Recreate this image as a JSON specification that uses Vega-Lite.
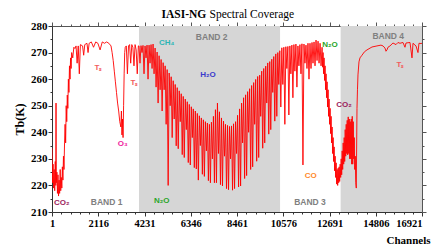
{
  "$schema": "https://vega.github.io/schema/vega-lite/v6.json",
  "width": 370,
  "height": 186,
  "autosize": {"type": "none"},
  "padding": {"left": 52, "top": 26, "right": 10, "bottom": 32},
  "background": "white",
  "datasets": {
    "bands": [
      {"start": 3980, "end": 10430},
      {"start": 13200, "end": 16921}
    ],
    "spectrum": [
      {"c":1,"t":234},{"c":25,"t":221},{"c":50,"t":228},{"c":75,"t":219},{"c":100,"t":226},{"c":125,"t":218},{"c":150,"t":229},{"c":175,"t":220},{"c":185,"t":251},{"c":195,"t":221},{"c":225,"t":225},{"c":250,"t":217},{"c":275,"t":224},{"c":300,"t":216},{"c":325,"t":222},{"c":350,"t":217},{"c":375,"t":226},{"c":400,"t":218},{"c":425,"t":223},{"c":450,"t":219},{"c":475,"t":227},{"c":500,"t":222},{"c":525,"t":231},{"c":550,"t":226},{"c":575,"t":236},{"c":600,"t":243},{"c":625,"t":236},{"c":650,"t":250},{"c":675,"t":244},{"c":700,"t":254},{"c":725,"t":249},{"c":750,"t":260},{"c":775,"t":255},{"c":800,"t":265},{"c":825,"t":260},{"c":850,"t":268},{"c":875,"t":264},{"c":900,"t":270},{"c":950,"t":268},{"c":1000,"t":272},{"c":1050,"t":271.5},{"c":1100,"t":272.5},{"c":1150,"t":266},{"c":1200,"t":272.5},{"c":1250,"t":262},{"c":1300,"t":273},{"c":1400,"t":272.5},{"c":1450,"t":269},{"c":1500,"t":273},{"c":1600,"t":273.5},{"c":1650,"t":270},{"c":1700,"t":273.5},{"c":1800,"t":274},{"c":1900,"t":272},{"c":2000,"t":274},{"c":2100,"t":273.5},{"c":2200,"t":271},{"c":2300,"t":274},{"c":2400,"t":273.5},{"c":2500,"t":274},{"c":2600,"t":273.5},{"c":2700,"t":272.5},{"c":2750,"t":270},{"c":2800,"t":267},{"c":2850,"t":263},{"c":2900,"t":259},{"c":2950,"t":255},{"c":3000,"t":251},{"c":3050,"t":248},{"c":3100,"t":244},{"c":3150,"t":242},{"c":3175,"t":248},{"c":3200,"t":239},{"c":3225,"t":245},{"c":3250,"t":238},{"c":3275,"t":250},{"c":3300,"t":262},{"c":3325,"t":270},{"c":3350,"t":272},{"c":3400,"t":272.5},{"c":3450,"t":262},{"c":3500,"t":272.5},{"c":3550,"t":273},{"c":3600,"t":266},{"c":3650,"t":273},{"c":3700,"t":272},{"c":3750,"t":265},{"c":3800,"t":273},{"c":3850,"t":271},{"c":3900,"t":262},{"c":3950,"t":272.5},
      {"c":3979,"t":272.5},{"c":4025,"t":266},{"c":4071,"t":272.6},{"c":4117,"t":270},{"c":4163,"t":272.7},{"c":4209,"t":262},{"c":4255,"t":272.5},{"c":4301,"t":268},{"c":4347,"t":272.8},{"c":4393,"t":260},{"c":4439,"t":272.8},{"c":4485,"t":266},{"c":4531,"t":273},{"c":4577,"t":264},{"c":4623,"t":273.2},{"c":4669,"t":262},{"c":4715,"t":271.7},{"c":4761,"t":257},{"c":4807,"t":270.2},{"c":4853,"t":251},{"c":4899,"t":268.8},{"c":4945,"t":256},{"c":4991,"t":267.4},{"c":5037,"t":248},{"c":5083,"t":266.2},{"c":5129,"t":256},{"c":5175,"t":265},{"c":5221,"t":243},{"c":5267,"t":263.6},{"c":5313,"t":220},{"c":5359,"t":262.3},{"c":5405,"t":250},{"c":5451,"t":260.9},{"c":5497,"t":238},{"c":5543,"t":259.4},{"c":5589,"t":245},{"c":5635,"t":258},{"c":5681,"t":234.9},{"c":5727,"t":256.8},{"c":5773,"t":233.8},{"c":5819,"t":255.6},{"c":5865,"t":244},{"c":5911,"t":254.5},{"c":5957,"t":231.6},{"c":6003,"t":253.5},{"c":6049,"t":230.5},{"c":6095,"t":252.5},{"c":6141,"t":241},{"c":6187,"t":251.5},{"c":6233,"t":228.6},{"c":6279,"t":250.5},{"c":6325,"t":227.7},{"c":6371,"t":249.6},{"c":6417,"t":238},{"c":6463,"t":248.8},{"c":6509,"t":226.7},{"c":6555,"t":248},{"c":6601,"t":226.2},{"c":6647,"t":247.1},{"c":6693,"t":222},{"c":6739,"t":246.2},{"c":6785,"t":235},{"c":6831,"t":245.4},{"c":6877,"t":224.2},{"c":6923,"t":244.7},{"c":6969,"t":223.4},{"c":7015,"t":244},{"c":7061,"t":233},{"c":7107,"t":243.5},{"c":7153,"t":221.8},{"c":7199,"t":243},{"c":7245,"t":221},{"c":7291,"t":243.8},{"c":7337,"t":230},{"c":7383,"t":246},{"c":7429,"t":221},{"c":7475,"t":248.5},{"c":7521,"t":221},{"c":7567,"t":251},{"c":7613,"t":232},{"c":7659,"t":247.7},{"c":7705,"t":220.3},{"c":7751,"t":245.4},{"c":7797,"t":219.8},{"c":7843,"t":244.2},{"c":7889,"t":231},{"c":7935,"t":243},{"c":7981,"t":218.8},{"c":8027,"t":242.6},{"c":8073,"t":218.4},{"c":8119,"t":242.2},{"c":8165,"t":230},{"c":8211,"t":242.4},{"c":8257,"t":218.2},{"c":8303,"t":243.2},{"c":8349,"t":218.8},{"c":8395,"t":244},{"c":8441,"t":232},{"c":8487,"t":246.4},{"c":8533,"t":219.4},{"c":8579,"t":248.8},{"c":8625,"t":219.8},{"c":8671,"t":251},{"c":8717,"t":236},{"c":8763,"t":253},{"c":8809,"t":222.6},{"c":8855,"t":254.1},{"c":8901,"t":223.7},{"c":8947,"t":255.3},{"c":8993,"t":240},{"c":9039,"t":256.4},{"c":9085,"t":226},{"c":9131,"t":257.6},{"c":9177,"t":227},{"c":9223,"t":258.7},{"c":9269,"t":243},{"c":9315,"t":259.9},{"c":9361,"t":229.1},{"c":9407,"t":261},{"c":9453,"t":230.5},{"c":9499,"t":261.5},{"c":9545,"t":246},{"c":9591,"t":263},{"c":9637,"t":234},{"c":9683,"t":264},{"c":9729,"t":236},{"c":9775,"t":264.9},{"c":9821,"t":251},{"c":9867,"t":266.1},{"c":9913,"t":239.3},{"c":9959,"t":266.6},{"c":10005,"t":241},{"c":10051,"t":267.5},{"c":10097,"t":255},{"c":10143,"t":268.5},{"c":10189,"t":244.2},{"c":10235,"t":269.5},{"c":10281,"t":246},{"c":10327,"t":270},{"c":10373,"t":258},{"c":10419,"t":270.7},{"c":10465,"t":249.5},
      {"c":10511,"t":271.8},{"c":10557,"t":258},{"c":10603,"t":272},{"c":10649,"t":243},{"c":10695,"t":272.2},{"c":10741,"t":264},{"c":10787,"t":272.3},{"c":10833,"t":246.5},{"c":10879,"t":272.5},{"c":10925,"t":262},{"c":10971,"t":272.8},{"c":11017,"t":253},{"c":11063,"t":273},{"c":11109,"t":263},{"c":11155,"t":273.2},{"c":11201,"t":257},{"c":11247,"t":272.5},{"c":11293,"t":265},{"c":11339,"t":273},{"c":11385,"t":262},{"c":11431,"t":273.3},{"c":11477,"t":227.7},{"c":11523,"t":273.2},{"c":11569,"t":266},{"c":11615,"t":272.8},{"c":11661,"t":264},{"c":11707,"t":273.5},{"c":11753,"t":260},{"c":11799,"t":273.5},{"c":11845,"t":264},{"c":11891,"t":273.8},{"c":11937,"t":266},{"c":11983,"t":274},{"c":12029,"t":265},{"c":12075,"t":274.7},{"c":12121,"t":267},{"c":12167,"t":274.3},{"c":12213,"t":266},{"c":12259,"t":273.5},{"c":12305,"t":265},{"c":12351,"t":272},
      {"c":12374,"t":264.5},{"c":12397,"t":270},{"c":12420,"t":262},{"c":12443,"t":268},{"c":12466,"t":259.5},{"c":12489,"t":265},{"c":12512,"t":256},{"c":12535,"t":262},{"c":12558,"t":253},{"c":12581,"t":259},{"c":12604,"t":249.5},{"c":12627,"t":256},{"c":12650,"t":246},{"c":12673,"t":252.5},{"c":12696,"t":243},{"c":12719,"t":249},{"c":12742,"t":239.5},{"c":12765,"t":246},{"c":12788,"t":236},{"c":12811,"t":242},{"c":12834,"t":232},{"c":12857,"t":238},{"c":12880,"t":229},{"c":12903,"t":234.5},{"c":12926,"t":225.5},{"c":12949,"t":231},{"c":12972,"t":223},{"c":12995,"t":228.5},{"c":13018,"t":220.5},{"c":13041,"t":226},{"c":13064,"t":220},{"c":13087,"t":226.5},{"c":13110,"t":221},{"c":13133,"t":227},{"c":13156,"t":221.5},{"c":13179,"t":228},{"c":13202,"t":223},{"c":13225,"t":230},{"c":13248,"t":224},{"c":13271,"t":233},{"c":13294,"t":226},{"c":13317,"t":236},{"c":13340,"t":228},{"c":13363,"t":238},{"c":13386,"t":229},{"c":13409,"t":241},{"c":13432,"t":231},{"c":13455,"t":243},{"c":13478,"t":232},{"c":13501,"t":244.5},{"c":13524,"t":231.5},{"c":13547,"t":245.8},{"c":13570,"t":232},{"c":13593,"t":245},{"c":13616,"t":230},{"c":13639,"t":244},{"c":13662,"t":230},{"c":13685,"t":245},{"c":13708,"t":228},{"c":13731,"t":246},{"c":13754,"t":228},{"c":13777,"t":244},{"c":13800,"t":230},{"c":13823,"t":238},{"c":13846,"t":226},{"c":13869,"t":231},{"c":13892,"t":221},{"c":13915,"t":219},
      {"c":13948,"t":249},{"c":13970,"t":256},{"c":13993,"t":261.6},{"c":14039,"t":266.5},{"c":14085,"t":268},{"c":14176,"t":269},{"c":14290,"t":270.3},{"c":14405,"t":271},{"c":14634,"t":272.1},{"c":14862,"t":272.5},{"c":15045,"t":272.8},{"c":15137,"t":272.5},{"c":15228,"t":271.7},{"c":15274,"t":270.5},{"c":15320,"t":271},{"c":15365,"t":272},{"c":15457,"t":272.5},{"c":15594,"t":273.6},{"c":15731,"t":273},{"c":15822,"t":273.8},{"c":15914,"t":273.5},{"c":16051,"t":273.8},{"c":16143,"t":272},{"c":16189,"t":273.6},{"c":16372,"t":273.8},{"c":16463,"t":268},{"c":16509,"t":273.5},{"c":16646,"t":272.5},{"c":16737,"t":270},{"c":16783,"t":273.5},{"c":16875,"t":273.4},{"c":16921,"t":273.5}
    ],
    "species": [
      {"c":444,"t":213.5,"label":"CO₂","g":"co2"},
      {"c":2104,"t":264.2,"label":"Tₛ","g":"ts"},
      {"c":3750,"t":258.5,"label":"Tₛ","g":"ts"},
      {"c":3233,"t":235.5,"label":"O₃","g":"o3"},
      {"c":5245,"t":273.5,"label":"CH₄","g":"ch4"},
      {"c":7134,"t":261.6,"label":"H₂O","g":"h2o"},
      {"c":5016,"t":214.1,"label":"N₂O","g":"n2o"},
      {"c":12713,"t":272.9,"label":"N₂O","g":"n2o"},
      {"c":13353,"t":250.3,"label":"CO₂","g":"co2"},
      {"c":11830,"t":223.6,"label":"CO","g":"co"},
      {"c":15914,"t":265.3,"label":"Tₛ","g":"ts"}
    ],
    "bandnames": [
      {"c":2501,"t":213.9,"label":"BAND 1"},
      {"c":7303,"t":276,"label":"BAND 2"},
      {"c":11798,"t":213.9,"label":"BAND 3"},
      {"c":15379,"t":276.4,"label":"BAND 4"}
    ]
  },
  "layer": [
    {
      "data": {"name": "bands"},
      "mark": {"type": "rect", "color": "#d6d6d6"},
      "encoding": {
        "x": {
          "field": "start", "type": "quantitative",
          "scale": {"domain": [1, 16921], "nice": false, "zero": false},
          "axis": {
            "orient": "top", "labels": false, "grid": false,
            "values": [1,424,847,1270,1693,2116,2539,2962,3385,3808,4231,4654,5077,5500,5923,6346,6769,7192,7615,8038,8461,8884,9307,9730,10153,10576,10999,11422,11845,12268,12691,13114,13537,13960,14383,14806,15229,15652,16075,16498,16921],
            "tickSize": {"condition": {"test": "(datum.value-1)%2115==0", "value": 4}, "value": 2},
            "tickColor": "#555555", "domainColor": "#555555",
            "title": "Spectral Coverage",
            "titleFont": "Liberation Serif", "titleFontWeight": "normal", "titleFontSize": 11.5, "titleColor": "#000000",
            "titleAlign": "left", "titleBaseline": "alphabetic", "titleAngle": 0, "titleX": 157, "titleY": -9
          }
        },
        "x2": {"field": "end"}
      }
    },
    {
      "data": {"name": "spectrum"},
      "mark": {"type": "line", "color": "#ff0000", "strokeWidth": 0.9, "clip": true},
      "encoding": {
        "x": {
          "field": "c", "type": "quantitative",
          "scale": {"domain": [1, 16921], "nice": false, "zero": false},
          "axis": {
            "orient": "bottom",
            "values": [1,424,847,1270,1693,2116,2539,2962,3385,3808,4231,4654,5077,5500,5923,6346,6769,7192,7615,8038,8461,8884,9307,9730,10153,10576,10999,11422,11845,12268,12691,13114,13537,13960,14383,14806,15229,15652,16075,16498,16921],
            "format": "d",
            "labelExpr": "(datum.value-1)%2115==0 ? datum.label : ''",
            "labelFlush": false,
            "labelOverlap": false,
            "labelAlign": {"condition": {"test": "datum.value==16921", "value": "right"}, "value": "center"},
            "labelFont": "Liberation Serif", "labelFontWeight": "bold", "labelFontSize": 10.5, "labelColor": "#000000",
            "labelPadding": 2,
            "tickSize": {"condition": {"test": "(datum.value-1)%2115==0", "value": 4}, "value": 2},
            "tickColor": "#333333", "domainColor": "#333333", "grid": false,
            "title": "Channels",
            "titleFont": "Liberation Serif", "titleFontWeight": "bold", "titleFontSize": 11, "titleColor": "#000000",
            "titleAlign": "right", "titleBaseline": "middle", "titleX": 378, "titleY": 28
          }
        },
        "y": {
          "field": "t", "type": "quantitative",
          "scale": {"domain": [210, 280], "nice": false, "zero": false},
          "axis": {
            "orient": "left",
            "values": [210,215,220,225,230,235,240,245,250,255,260,265,270,275,280],
            "labelExpr": "datum.value%10==0 ? datum.label : ''",
            "labelFont": "Liberation Serif", "labelFontWeight": "bold", "labelFontSize": 11, "labelColor": "#000000",
            "labelPadding": 1,
            "tickSize": {"condition": {"test": "datum.value%10==0", "value": 4}, "value": 2},
            "tickColor": "#333333", "domainColor": "#333333", "grid": false,
            "title": "Tb(K)",
            "titleFont": "Liberation Serif", "titleFontWeight": "bold", "titleFontSize": 12, "titleColor": "#000000",
            "titleAngle": 270, "titleAlign": "center", "titleBaseline": "middle", "titleX": -33, "titleY": 93
          }
        }
      }
    },
    {
      "data": {"name": "species"},
      "mark": {"type": "text", "font": "Liberation Sans", "fontWeight": "bold", "fontSize": 8},
      "encoding": {
        "x": {"field": "c", "type": "quantitative", "scale": {"domain": [1, 16921], "nice": false, "zero": false}, "axis": null},
        "y": {
          "field": "t", "type": "quantitative",
          "scale": {"domain": [210, 280], "nice": false, "zero": false},
          "axis": {
            "orient": "right", "title": null, "labels": false, "grid": false,
            "values": [210,215,220,225,230,235,240,245,250,255,260,265,270,275,280],
            "tickSize": {"condition": {"test": "datum.value%10==0", "value": 4}, "value": 2},
            "tickColor": "#555555", "domainColor": "#555555"
          }
        },
        "text": {"field": "label"},
        "color": {
          "field": "g", "type": "nominal", "legend": null,
          "scale": {"domain": ["co2","ts","o3","ch4","h2o","n2o","co"], "range": ["#9c1c5c","#f25c5c","#f0259e","#2bb5b5","#3a3acc","#2aa52a","#ff8a2a"]}
        }
      }
    },
    {
      "data": {"name": "bandnames"},
      "mark": {"type": "text", "font": "Liberation Sans", "fontWeight": "bold", "fontSize": 8.5, "color": "#808080"},
      "encoding": {
        "x": {
          "field": "c", "type": "quantitative", "scale": {"domain": [1, 16921], "nice": false, "zero": false},
          "axis": {
            "orient": "top", "labels": false, "ticks": false, "domain": false, "grid": false,
            "title": "IASI-NG",
            "titleFont": "Liberation Serif", "titleFontWeight": "bold", "titleFontSize": 11.5, "titleColor": "#000000",
            "titleAlign": "left", "titleBaseline": "alphabetic", "titleAngle": 0, "titleX": 109, "titleY": -9
          }
        },
        "y": {"field": "t", "type": "quantitative", "scale": {"domain": [210, 280], "nice": false, "zero": false}, "axis": null},
        "text": {"field": "label"}
      }
    }
  ],
  "resolve": {"axis": {"x": "independent", "y": "independent"}},
  "config": {"view": {"stroke": null}}
}
